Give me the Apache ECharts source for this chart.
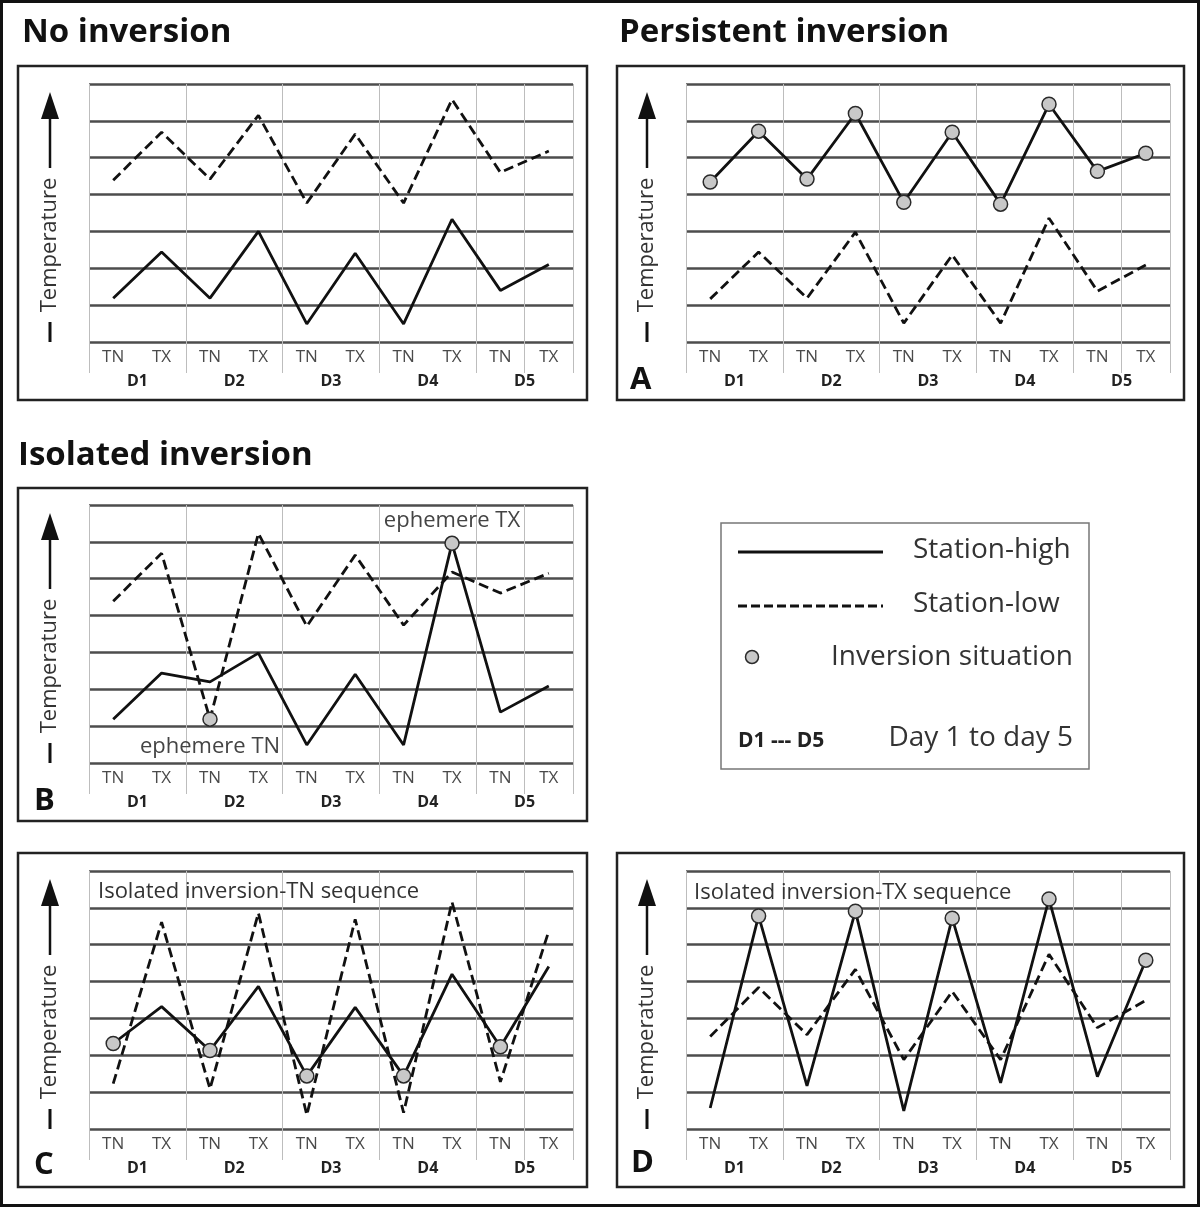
<!DOCTYPE html>
<html>
<head>
<meta charset="utf-8">
<script src="https://cdn.jsdelivr.net/npm/echarts@6/dist/echarts.min.js"></script>
<style>
  html, body { margin: 0; padding: 0; background: #fff; }
  #main { width: 1200px; height: 1207px; }
</style>
</head>
<body>
<div id="main"></div>
<script>
// categories
const cats = ['TN', 'TX', 'TN', 'TX', 'TN', 'TX', 'TN', 'TX', 'TN', 'TX'];
const days = ['D1', 'D2', 'D3', 'D4', 'D5'];

// no inversion
const noInvHigh = [1.19, 2.44, 1.19, 3.0, 0.49, 2.41, 0.49, 3.33, 1.4, 2.1];
const noInvLow = [4.39, 5.69, 4.42, 6.15, 3.77, 5.64, 3.77, 6.58, 4.6, 5.18];
// persistent inversion (A)
const persHigh = [4.34, 5.72, 4.42, 6.2, 3.79, 5.69, 3.74, 6.45, 4.63, 5.12];
const persLow = [1.17, 2.44, 1.19, 2.98, 0.51, 2.36, 0.51, 3.36, 1.38, 2.09];
// isolated inversion (B)
const isoHigh = [1.19, 2.44, 2.2, 2.98, 0.49, 2.41, 0.49, 5.96, 1.38, 2.09];
const isoLow = [4.39, 5.69, 1.19, 6.23, 3.71, 5.64, 3.74, 5.18, 4.61, 5.15];
// isolated inversion TN sequence (C)
const tnSeqHigh = [2.32, 3.32, 2.13, 3.87, 1.44, 3.3, 1.44, 4.2, 2.23, 4.41];
const tnSeqLow = [1.23, 5.61, 1.09, 5.86, 0.38, 5.69, 0.44, 6.16, 1.28, 5.37];
// isolated inversion TX sequence (D)
const txSeqHigh = [0.57, 5.78, 1.17, 5.91, 0.49, 5.72, 1.25, 6.24, 1.42, 4.58];
const txSeqLow = [2.51, 3.84, 2.56, 4.33, 1.88, 3.73, 1.88, 4.74, 2.75, 3.49];

// which points are inversion situations
const persInv = [0, 1, 2, 3, 4, 5, 6, 7, 8, 9];
const isoInvHigh = [7];
const isoInvLow = [2];
const tnSeqInv = [0, 2, 4, 6, 8];
const txSeqInv = [1, 3, 5, 7, 9];

const FONT = '"Open Sans", "Noto Sans", sans-serif';
const TXT = '#3a3a3a';

const panels = [
    {left: 89, top: 84, high: noInvHigh, low: noInvLow, invHigh: [], invLow: []},
    {left: 686, top: 84, high: persHigh, low: persLow, invHigh: persInv, invLow: []},
    {left: 89, top: 505, high: isoHigh, low: isoLow, invHigh: isoInvHigh, invLow: isoInvLow},
    {left: 89, top: 871, high: tnSeqHigh, low: tnSeqLow, invHigh: tnSeqInv, invLow: []},
    {left: 686, top: 871, high: txSeqHigh, low: txSeqLow, invHigh: txSeqInv, invLow: []}
];

const grids = [], xAxes = [], yAxes = [], series = [];
panels.forEach(function (p, g) {
    grids.push({left: p.left, top: p.top, width: 484, height: 258});
    xAxes.push({
        type: 'category', gridIndex: g, data: cats, position: 'bottom',
        boundaryGap: true,
        axisLine: {show: false},
        axisTick: {show: true, interval: 1, length: 31, lineStyle: {color: '#bdbdbd', width: 1}},
        axisLabel: {interval: 0, margin: 7, color: '#4a4a4a', fontSize: 17, fontFamily: FONT},
        splitLine: {show: true, interval: 1, lineStyle: {color: '#bdbdbd', width: 1}}
    });
    xAxes.push({
        type: 'category', gridIndex: g, data: days, position: 'bottom',
        axisLine: {show: false}, axisTick: {show: false}, splitLine: {show: false},
        axisLabel: {margin: 31, color: '#222', fontSize: 16, fontWeight: 'bold', fontFamily: FONT}
    });
    yAxes.push({
        type: 'value', gridIndex: g, min: 0, max: 7, interval: 1,
        axisLine: {show: false}, axisTick: {show: false}, axisLabel: {show: false},
        splitLine: {show: true, lineStyle: {color: '#4d4d4d', width: 2.5}}
    });
    series.push({
        type: 'line', xAxisIndex: 2 * g, yAxisIndex: g, data: p.low,
        symbol: 'none', z: 3, animation: false,
        lineStyle: {color: '#111', width: 2.8, type: [10, 5]}
    });
    series.push({
        type: 'line', xAxisIndex: 2 * g, yAxisIndex: g, data: p.high,
        symbol: 'none', z: 4, animation: false,
        lineStyle: {color: '#111', width: 2.8}
    });
    const pts = p.invHigh.map(function (i) { return {value: [i, p.high[i]]}; })
        .concat(p.invLow.map(function (i) { return {value: [i, p.low[i]]}; }));
    if (pts.length) {
        series.push({
            type: 'scatter', xAxisIndex: 2 * g, yAxisIndex: g, data: pts,
            symbol: 'circle', symbolSize: 14, z: 5, animation: false,
            itemStyle: {color: '#c8c8c8', borderColor: '#2a2a2a', borderWidth: 1.5, opacity: 1}
        });
    }
});

// annotations on panel B
const bScatter = series.filter(function (s) { return s.type === 'scatter' && s.xAxisIndex === 4; })[0];
bScatter.data[0].label = {show: true, position: 'top', distance: 4, formatter: 'ephemere TX', color: '#444', fontSize: 22, fontFamily: FONT};
bScatter.data[1].label = {show: true, position: 'bottom', distance: 9, formatter: 'ephemere TN', color: '#444', fontSize: 22, fontFamily: FONT};

// decoration: frames, titles, temperature axis, letters, key
const graphic = [];
function rect(x, y, w, h, stroke, lw) {
    graphic.push({type: 'rect', silent: true, shape: {x: x, y: y, width: w, height: h},
        style: {fill: 'none', stroke: stroke, lineWidth: lw}, z: 0});
}
function text(t, x, y, font, align, fill, rot) {
    graphic.push({type: 'text', silent: true, x: x, y: y, rotation: rot || 0, z: 10,
        style: {text: t, font: font, fill: fill || TXT, align: align || 'left', verticalAlign: 'middle'}});
}
function line(x1, y1, x2, y2, lw, dash) {
    graphic.push({type: 'line', silent: true, shape: {x1: x1, y1: y1, x2: x2, y2: y2},
        style: {stroke: '#111', lineWidth: lw, lineDash: dash || null}, z: 10});
}
function tempAxis(cx, dy) {
    graphic.push({type: 'polygon', silent: true, shape: {points: [[cx, 92 + dy], [cx - 9, 119 + dy], [cx + 9, 119 + dy]]},
        style: {fill: '#111'}, z: 10});
    line(cx, 117 + dy, cx, 168 + dy, 2.5);
    text('Temperature', cx, 245 + dy, '22px ' + FONT, 'center', '#333', Math.PI / 2);
    line(cx, 322 + dy, cx, 342 + dy, 3);
}

rect(1.5, 1.5, 1197, 1204, '#111', 3);
rect(18, 66, 569, 334, '#222', 2.5);
rect(617, 66, 567, 334, '#222', 2.5);
rect(18, 488, 569, 333, '#222', 2.5);
rect(18, 853, 569, 334, '#222', 2.5);
rect(617, 853, 567, 334, '#222', 2.5);

text('No inversion', 22, 33, 'bold 33px ' + FONT, 'left', '#111');
text('Persistent inversion', 619, 33, 'bold 33px ' + FONT, 'left', '#111');
text('Isolated inversion', 18, 456, 'bold 33px ' + FONT, 'left', '#111');

tempAxis(50, 0);
tempAxis(647, 0);
tempAxis(50, 421);
tempAxis(50, 787);
tempAxis(647, 787);

text('A', 630, 380, 'bold 31px ' + FONT, 'left', '#111');
text('B', 34, 801, 'bold 31px ' + FONT, 'left', '#111');
text('C', 34, 1165, 'bold 31px ' + FONT, 'left', '#111');
text('D', 631, 1163, 'bold 31px ' + FONT, 'left', '#111');

text('Isolated inversion-TN sequence', 98, 892, '22px ' + FONT, 'left', '#333');
text('Isolated inversion-TX sequence', 694, 893, '22px ' + FONT, 'left', '#333');

// key
rect(721, 523, 368, 246, '#777', 1.5);
line(738, 552, 883, 552, 3);
line(738, 606, 883, 606, 3, [9, 4]);
graphic.push({type: 'circle', silent: true, shape: {cx: 752, cy: 657, r: 6.5},
    style: {fill: '#c8c8c8', stroke: '#2a2a2a', lineWidth: 1.5}, z: 10});
text('Station-high', 913, 550, '28px ' + FONT, 'left', '#333');
text('Station-low', 913, 604, '28px ' + FONT, 'left', '#333');
text('Inversion situation', 1073, 657, '28px ' + FONT, 'right', '#333');
text('D1 --- D5', 738, 741, 'bold 21px ' + FONT, 'left', '#222');
text('Day 1 to day 5', 1073, 738, '28px ' + FONT, 'right', '#333');

const chart = echarts.init(document.getElementById('main'));
chart.setOption({
    animation: false,
    backgroundColor: '#fff',
    grid: grids,
    xAxis: xAxes,
    yAxis: yAxes,
    series: series,
    graphic: graphic
});
</script>
</body>
</html>
